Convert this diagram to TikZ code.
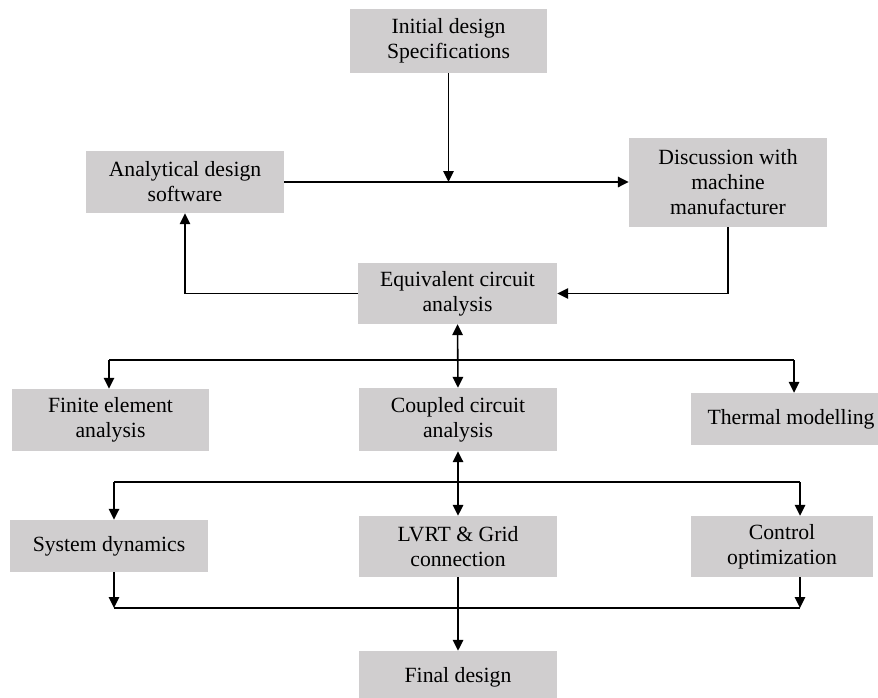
\documentclass[tikz,border=0pt]{standalone}
\usepackage{fontspec}
\setmainfont{Liberation Serif}
\usetikzlibrary{arrows.meta}
\definecolor{boxgray}{RGB}{208,206,207}
\begin{document}
\begin{tikzpicture}[x=1pt,y=-1pt,
  box/.style={fill=boxgray, inner sep=0pt, align=center,
    font=\fontsize{21.7}{25}\selectfont},
  link/.style={line width=1.6pt},
  tip/.tip={Triangle[length=11pt,width=10.5pt]},
  arr/.style={link, -tip},
  arrs/.style={link, tip-tip}]
\useasboundingbox (0,0) rectangle (878,698);

% process boxes
\node[box, minimum width=197pt, minimum height=64pt] (init) at (448.5,41) {Initial design\\Specifications};
\node[box, minimum width=198pt, minimum height=62pt] (anal) at (185,182) {Analytical design\\software};
\node[box, minimum width=198pt, minimum height=89pt] (disc) at (728,182.5) {Discussion with\\machine\\manufacturer};
\node[box, minimum width=199pt, minimum height=61pt] (equiv) at (457.5,293.5) {Equivalent circuit\\analysis};
\node[box, minimum width=197pt, minimum height=62pt] (fin) at (110.5,420) {Finite element\\analysis};
\node[box, minimum width=198pt, minimum height=63pt] (coup) at (458,419.5) {Coupled circuit\\analysis};
\node[box, minimum width=200pt, minimum height=52pt] (therm) at (791,419) {Thermal modelling};
\node[box, minimum width=198pt, minimum height=52pt] (sys) at (109,546) {System dynamics};
\node[box, minimum width=198pt, minimum height=61pt] (lvrt) at (458,546.5) {LVRT \& Grid\\connection};
\node[box, minimum width=182pt, minimum height=61pt] (ctrl) at (782,546.5) {Control\\optimization};
\node[box, minimum width=198pt, minimum height=52pt] (final) at (458,677) {Final design};

% bus lines
\coordinate (b1l) at (109,360);
\coordinate (b1r) at (794,360);
\coordinate (b2l) at (114,482);
\coordinate (b2r) at (800,482);
\coordinate (b3l) at (114,608);
\coordinate (b3r) at (800,608);

% upper loop
\draw[arr] (anal.east) -- (anal.east -| disc.west);
\draw[arr] (init.south) -- (init.south |- anal.east);
\draw[arr] (disc.south) -- (disc.south |- equiv.east) -- (equiv.east);
\draw[arr] (equiv.west) -| (anal.south);

% first analysis level
\draw[arrs] (equiv.south) -- (coup.north);
\draw[link] (b1l) -- (b1r);
\draw[arr] (b1l) -- (b1l |- fin.north);
\draw[arr] (b1r) -- (b1r |- therm.north);

% second analysis level
\draw[arrs] (coup.south) -- (lvrt.north);
\draw[link] (b2l) -- (b2r);
\draw[arr] (b2l) -- (b2l |- sys.north);
\draw[arr] (b2r) -- (b2r |- ctrl.north);

% merge to final design
\draw[link] (b3l) -- (b3r);
\draw[arr] (b3l |- sys.south) -- (b3l);
\draw[arr] (b3r |- ctrl.south) -- (b3r);
\draw[arr] (lvrt.south) -- (final.north);
\end{tikzpicture}
\end{document}
